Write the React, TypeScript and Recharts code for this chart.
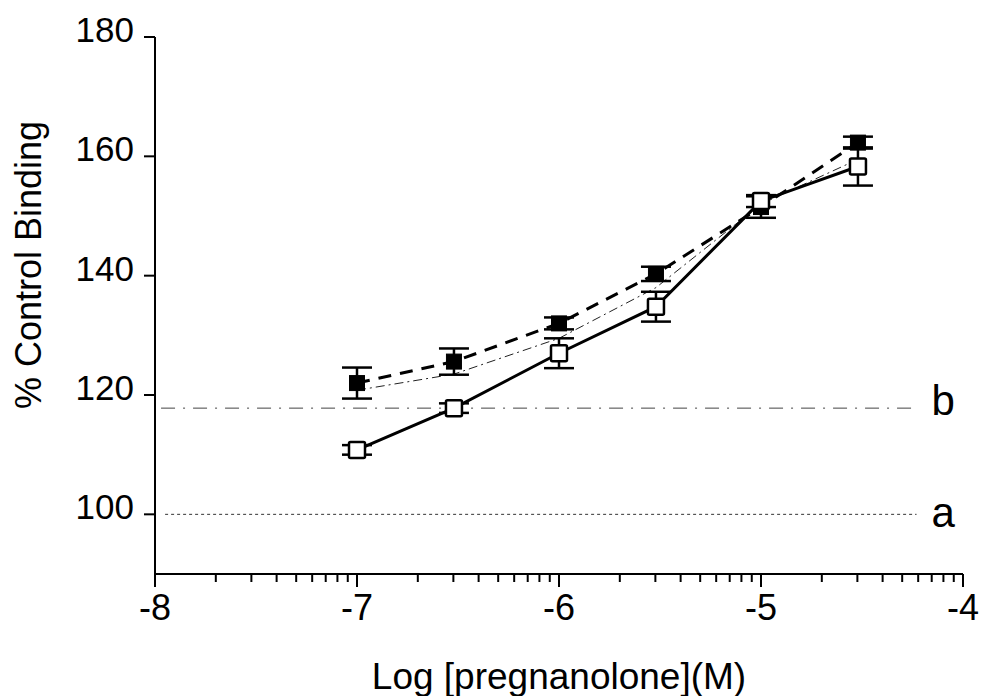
import React from 'react';
import {
  ComposedChart, Line, XAxis, YAxis, ReferenceLine, ErrorBar,
} from 'recharts';

// log molar concentrations of pregnanolone
const doses = [-7, -6.52, -6, -5.52, -5, -4.52];

// open squares, solid line
const openMean = [110.8, 117.8, 127.0, 134.8, 152.5, 158.3];
const openErr = [0.8, 0.8, 2.5, 2.5, 1.0, 3.2];

// filled squares, heavy dashed line
const filledMean = [122.0, 125.6, 132.0, 140.3, 151.5, 162.3];
const filledErr = [2.6, 2.2, 1.0, 1.2, 1.8, 1.0];

// thin dash-dot line, no markers
const thinMean = [120.8, 123.5, 129.5, 138.0, 152.0, 159.5];

const lineA = 100;
const lineB = 117.8;

const xMajor = [-8, -7, -6, -5, -4];
const minorSteps = [2, 3, 4, 5, 6, 7, 8, 9];
const yTicks = [100, 120, 140, 160, 180];

const xTicks = [
  ...xMajor,
  ...xMajor.slice(0, -1).flatMap((d) => minorSteps.map((k) => d + Math.log10(k))),
].sort((a, b) => a - b);

const openData = doses.map((x, i) => ({ x, y: openMean[i], err: openErr[i] }));
const filledData = doses.map((x, i) => ({ x, y: filledMean[i], err: filledErr[i] }));
const thinData = doses.map((x, i) => ({ x, y: thinMean[i] }));

const FONT = '"Liberation Sans", Arial, Helvetica, sans-serif';

const XTick = (props: any) => {
  const { x, y, payload } = props;
  const major = xMajor.includes(payload.value);
  return (
    <g>
      <line x1={x} y1={y} x2={x} y2={y + (major ? 13 : 8)} stroke="#000" strokeWidth={2} />
      {major && (
        <text x={x} y={y + 46} textAnchor="middle" fontSize={36} fontFamily={FONT} fill="#000">
          {payload.value}
        </text>
      )}
    </g>
  );
};

const YTick = (props: any) => {
  const { x, y, payload } = props;
  return (
    <text x={x} y={y + 5} textAnchor="end" fontSize={35} fontFamily={FONT} fill="#000">
      {payload.value}
    </text>
  );
};

const openSquare = (p: any) => (
  <rect key={`o-${p.index}`} x={p.cx - 8} y={p.cy - 8} width={16} height={16}
    fill="#fff" stroke="#000" strokeWidth={2.5} rx={1.5} />
);

const filledSquare = (p: any) => (
  <rect key={`f-${p.index}`} x={p.cx - 7.5} y={p.cy - 7.5} width={15} height={15}
    fill="#000" stroke="#000" strokeWidth={1} />
);

const YLabel = (props: any) => {
  const { viewBox } = props;
  const cx = viewBox.x + 28;
  const cy = 265;
  return (
    <text x={cx} y={cy} transform={`rotate(-90 ${cx} ${cy})`} textAnchor="middle"
      dominantBaseline="central" fontSize={36} fontFamily={FONT} fill="#000">
      % Control Binding
    </text>
  );
};

const sideLabel = (text: string, dy: number) => (props: any) => {
  const { viewBox } = props;
  return (
    <text x={viewBox.x + viewBox.width + 15} y={viewBox.y + dy} fontSize={42}
      fontFamily={FONT} fill="#000">
      {text}
    </text>
  );
};

export default function App() {
  return (
    <div style={{ position: 'absolute', left: 0, top: 0, background: '#fff' }}>
      <ComposedChart width={982} height={696} margin={{ top: 37, right: 19, bottom: 0, left: 0 }}>
        <XAxis
          dataKey="x" type="number" domain={[-8, -4]} ticks={xTicks} interval={0}
          tickSize={0} tickMargin={0} tickLine={false} tick={<XTick />}
          axisLine={{ stroke: '#000', strokeWidth: 2 }} height={122} allowDataOverflow
          label={{ value: 'Log [pregnanolone](M)', position: 'insideBottom', offset: 7,
            fontSize: 37, fontFamily: FONT, fill: '#000' }}
        />
        <YAxis
          type="number" domain={[90, 180]} ticks={yTicks} interval={0} width={155}
          tickSize={11} tickMargin={10} tickLine={{ stroke: '#000', strokeWidth: 2 }}
          axisLine={{ stroke: '#000', strokeWidth: 2 }} allowDataOverflow
          tick={<YTick />}
          label={<YLabel />}
        />
        <ReferenceLine
          segment={[{ x: -7.95, y: lineA }, { x: -4.23, y: lineA }]}
          stroke="#333" strokeWidth={1} strokeDasharray="3 3"
          label={sideLabel('a', 13)}
        />
        <ReferenceLine
          segment={[{ x: -7.97, y: lineB }, { x: -4.23, y: lineB }]}
          stroke="#444" strokeWidth={1} strokeDasharray="14 8 2 8"
          label={sideLabel('b', 7)}
        />
        <Line data={thinData} dataKey="y" type="linear" stroke="#222" strokeWidth={1}
          strokeDasharray="9 4 2 4" dot={false} isAnimationActive={false} />
        <Line data={filledData} dataKey="y" type="linear" stroke="#000" strokeWidth={3}
          strokeDasharray="13 9" dot={filledSquare} isAnimationActive={false}>
          <ErrorBar dataKey="err" width={15} stroke="#000" strokeWidth={2.5} />
        </Line>
        <Line data={openData} dataKey="y" type="linear" stroke="#000" strokeWidth={3}
          dot={openSquare} isAnimationActive={false}>
          <ErrorBar dataKey="err" width={15} stroke="#000" strokeWidth={2.5} />
        </Line>
      </ComposedChart>
    </div>
  );
}
